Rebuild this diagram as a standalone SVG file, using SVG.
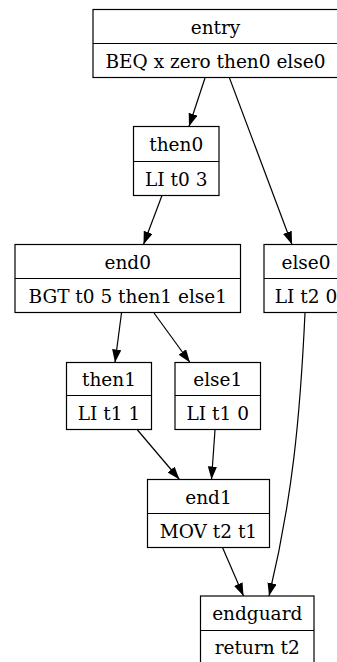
<svg xmlns="http://www.w3.org/2000/svg" width="337" height="662" viewBox="0 0 337 662">
<style>
.box{fill:#fff;stroke:#000;stroke-width:1.2}
.t{font-family:"DejaVu Serif","Liberation Serif",serif;font-size:18.5px;fill:#000;text-anchor:middle}
.e{fill:none;stroke:#000;stroke-width:1.2}
</style>
<defs>
<marker id="ah" markerUnits="userSpaceOnUse" markerWidth="15" markerHeight="11" refX="13" refY="4.6" orient="auto">
<path d="M0,0 L13,4.6 L0,9.2 Z" fill="#000"/>
</marker>
</defs>
<rect width="337" height="662" fill="#fff"/>
<g id="connectors">
<path class="e" marker-end="url(#ah)" d="M205,78 L189,126.5"/>
<path class="e" marker-end="url(#ah)" d="M229.5,78 L292,244.5"/>
<path class="e" marker-end="url(#ah)" d="M162,195.5 L143.5,244.5"/>
<path class="e" marker-end="url(#ah)" d="M121.5,313 L115,362.5"/>
<path class="e" marker-end="url(#ah)" d="M154,313 L190,362.5"/>
<path class="e" marker-end="url(#ah)" d="M137.5,430 L179.5,479.5"/>
<path class="e" marker-end="url(#ah)" d="M215,430 L211.5,479.5"/>
<path class="e" marker-end="url(#ah)" d="M222.5,547.5 L243.5,596"/>
<path class="e" marker-end="url(#ah)" d="M305,313 C300,420 292,500 269,596"/>
</g>
<g id="entry">
<rect class="box" x="93" y="9.5" width="245" height="68"/>
<line class="e" x1="93" y1="43.5" x2="338" y2="43.5"/>
<text class="t" x="215.5" y="33.5">entry</text>
<text class="t" x="215.5" y="67.5">BEQ x zero then0 else0</text>
</g>
<g id="then0">
<rect class="box" x="133.5" y="126.5" width="85.5" height="69"/>
<line class="e" x1="133.5" y1="161.5" x2="219" y2="161.5"/>
<text class="t" x="176.25" y="151">then0</text>
<text class="t" x="176.25" y="185.5">LI t0 3</text>
</g>
<g id="end0">
<rect class="box" x="15" y="244.5" width="225.5" height="68"/>
<line class="e" x1="15" y1="278.5" x2="240.5" y2="278.5"/>
<text class="t" x="127.75" y="268.5">end0</text>
<text class="t" x="127.75" y="302.5">BGT t0 5 then1 else1</text>
</g>
<g id="else0">
<rect class="box" x="264" y="244.5" width="84" height="68"/>
<line class="e" x1="264" y1="278.5" x2="348" y2="278.5"/>
<text class="t" x="306" y="268.5">else0</text>
<text class="t" x="306" y="302.5">LI t2 0</text>
</g>
<g id="then1">
<rect class="box" x="66.5" y="362.5" width="85" height="67"/>
<line class="e" x1="66.5" y1="395.5" x2="151.5" y2="395.5"/>
<text class="t" x="109" y="386">then1</text>
<text class="t" x="109" y="419.5">LI t1 1</text>
</g>
<g id="else1">
<rect class="box" x="175" y="362.5" width="85.5" height="67"/>
<line class="e" x1="175" y1="395.5" x2="260.5" y2="395.5"/>
<text class="t" x="217.75" y="386">else1</text>
<text class="t" x="217.75" y="419.5">LI t1 0</text>
</g>
<g id="end1">
<rect class="box" x="147.5" y="479.5" width="122" height="68"/>
<line class="e" x1="147.5" y1="513.5" x2="269.5" y2="513.5"/>
<text class="t" x="208.5" y="503.5">end1</text>
<text class="t" x="208.5" y="537.5">MOV t2 t1</text>
</g>
<g id="endguard">
<rect class="box" x="200.5" y="596" width="113.5" height="68"/>
<line class="e" x1="200.5" y1="630.5" x2="314" y2="630.5"/>
<text class="t" x="257.25" y="620">endguard</text>
<text class="t" x="257.25" y="654">return t2</text>
</g>
</svg>
